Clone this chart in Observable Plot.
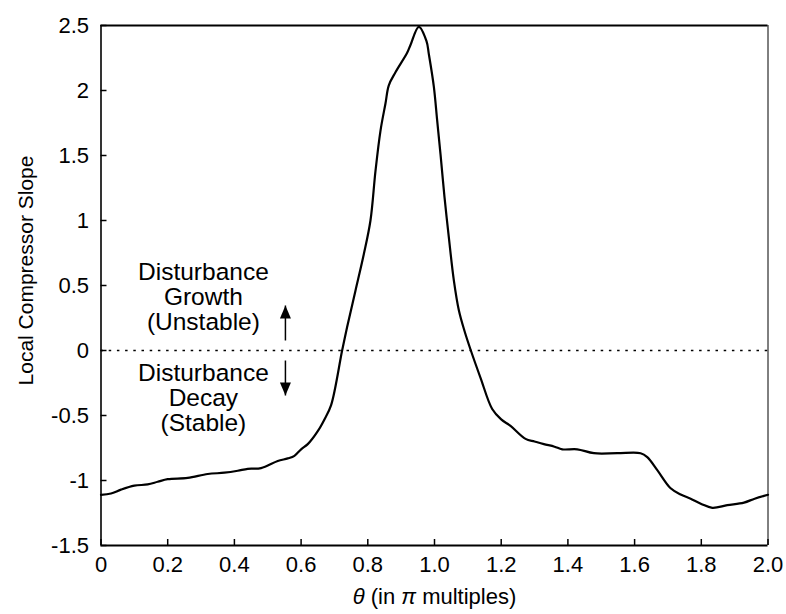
<!DOCTYPE html>
<html>
<head>
<meta charset="utf-8">
<script src="https://cdn.jsdelivr.net/npm/d3@7"></script>
<script src="https://cdn.jsdelivr.net/npm/@observablehq/plot@0.6"></script>
<style>
  html, body { margin: 0; padding: 0; background: #fff; }
</style>
</head>
<body>
<div id="chart"></div>
<script>
// θ in multiples of π
const theta = [0.00, 0.03, 0.06, 0.10, 0.14, 0.17, 0.20, 0.26, 0.32, 0.37, 0.41, 0.44, 0.48, 0.53, 0.56, 0.58,
  0.60, 0.62, 0.65, 0.67, 0.69, 0.723, 0.738, 0.763, 0.788, 0.808, 0.823, 0.838, 0.853, 0.863, 0.883, 0.918,
  0.928, 0.953, 0.976, 0.983, 0.998, 1.008, 1.018, 1.030, 1.043, 1.058, 1.073, 1.090, 1.109, 1.138, 1.173,
  1.20, 1.228, 1.273, 1.30, 1.328, 1.36, 1.383, 1.428, 1.478, 1.548, 1.618, 1.638, 1.668, 1.708, 1.74, 1.768,
  1.80, 1.833, 1.878, 1.928, 1.96, 2.00];
// Local compressor slope
const slope = [-1.11, -1.10, -1.07, -1.04, -1.03, -1.01, -0.99, -0.98, -0.95, -0.94, -0.925, -0.91, -0.905, -0.85, -0.83, -0.81,
  -0.76, -0.72, -0.62, -0.53, -0.42, 0.00, 0.18, 0.46, 0.74, 1.00, 1.38, 1.69, 1.90, 2.04, 2.14, 2.29,
  2.35, 2.49, 2.38, 2.28, 2.03, 1.77, 1.51, 1.18, 0.87, 0.54, 0.31, 0.15, 0.00, -0.21, -0.45,
  -0.53, -0.58, -0.68, -0.70, -0.72, -0.74, -0.76, -0.76, -0.79, -0.79, -0.79, -0.82, -0.92, -1.06, -1.11, -1.14,
  -1.18, -1.21, -1.19, -1.17, -1.14, -1.11];

const xTicks = [0, 0.2, 0.4, 0.6, 0.8, 1.0, 1.2, 1.4, 1.6, 1.8, 2.0];
const xTickLabels = ["0", "0.2", "0.4", "0.6", "0.8", "1.0", "1.2", "1.4", "1.6", "1.8", "2.0"];
const yTicks = [-1.5, -1, -0.5, 0, 0.5, 1, 1.5, 2, 2.5];
const yTickLabels = ["-1.5", "-1", "-0.5", "0", "0.5", "1", "1.5", "2", "2.5"];

const xLabel = "θ (in π multiples)";
const yLabel = "Local Compressor Slope";

const noteLines = [["Disturbance", "Growth", "(Unstable)"], ["Disturbance", "Decay", "(Stable)"]];
const noteX = 0.307;
const noteY = [0.408, -0.369];

const arrowX = 0.553;
const arrowFrom = [0.077, -0.077];
const arrowTo = [0.346, -0.346];
const arrowDir = [0, 180];

const curve = theta.map((t, i) => ({theta: t, slope: slope[i]}));
const notes = noteLines.map((lines, i) => ({text: lines.join("\n"), y: noteY[i]}));
const arrows = arrowFrom.map((y1, i) => ({y1, y2: arrowTo[i], dir: arrowDir[i]}));

const W = 786, H = 614, mL = 100.5, mR = 18.5, mT = 25, mB = 69;
const plotW = W - mL - mR, plotH = H - mT - mB;

const chart = Plot.plot({
  width: W,
  height: H,
  marginLeft: mL,
  marginRight: mR,
  marginTop: mT,
  marginBottom: mB,
  style: {
    fontFamily: "'Liberation Sans', Arial, Helvetica, sans-serif",
    fontSize: "22px",
    color: "#000",
    background: "#fff",
    overflow: "visible"
  },
  x: {domain: [0, 2]},
  y: {domain: [-1.5, 2.5]},
  marks: [
    Plot.axisX(xTicks, {
      tickSize: 0, tickPadding: 11,
      tickFormat: d => xTickLabels[xTicks.indexOf(d)],
      label: xLabel, labelAnchor: "center", labelArrow: "none", labelOffset: 58
    }),
    Plot.axisY(yTicks, {
      tickSize: 0, tickPadding: 12,
      tickFormat: d => yTickLabels[yTicks.indexOf(d)],
      label: null
    }),
    Plot.text([yLabel], {text: d => d, frameAnchor: "left", rotate: -90, dx: -75, dy: -15,
      fontSize: 21, textAnchor: "middle", lineAnchor: "middle", fill: "#000"}),
    Plot.tickX(xTicks, {x: d => d, insetTop: plotH - 6, strokeWidth: 1.5}),
    Plot.tickY(yTicks, {y: d => d, insetRight: plotW - 6, strokeWidth: 1.5}),
    Plot.ruleY([0], {strokeDasharray: "2.5,5.7", strokeWidth: 1.6}),
    Plot.line(curve, {x: "theta", y: "slope", curve: "catmull-rom", strokeWidth: 2.2, stroke: "#000"}),
    Plot.text(notes, {x: noteX, y: "y", text: "text", fontSize: 24.5, lineHeight: 1.02, textAnchor: "middle", lineAnchor: "middle", fill: "#000"}),
    Plot.link(arrows, {x1: arrowX, x2: arrowX, y1: "y1", y2: "y2", strokeWidth: 1.5, stroke: "#000"}),
    Plot.vector(arrows, {x: arrowX, y: "y2", anchor: "end", rotate: "dir", length: 13, r: 5.5, shape: "spike", fill: "#000", stroke: "none"}),
    Plot.ruleY([2.5], {strokeWidth: 2.2}),
    Plot.ruleY([-1.5], {strokeWidth: 2.2}),
    Plot.ruleX([0], {strokeWidth: 1.6}),
    Plot.ruleX([2], {strokeWidth: 1})
  ]
});

// italicise θ and π in the x-axis label
for (const t of chart.querySelectorAll("text")) {
  if (t.textContent === xLabel) {
    t.textContent = "";
    const parts = [["θ", true], [" (in ", false], ["π", true], [" multiples)", false]];
    for (const [s, it] of parts) {
      const ts = document.createElementNS("http://www.w3.org/2000/svg", "tspan");
      ts.textContent = s;
      if (it) ts.setAttribute("font-style", "italic");
      t.appendChild(ts);
    }
  }
}

document.getElementById("chart").appendChild(chart);
</script>
</body>
</html>
